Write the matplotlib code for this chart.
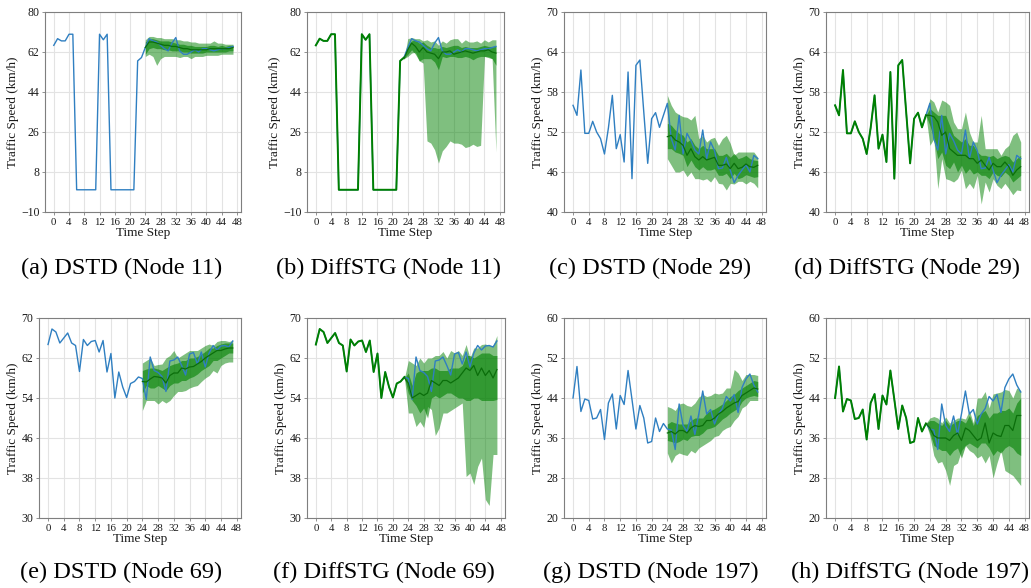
import numpy as np
import matplotlib
matplotlib.use("Agg")
import matplotlib.pyplot as plt

plt.rcParams['font.family'] = ['Liberation Serif', 'DejaVu Serif']
plt.rcParams['mathtext.fontset'] = 'stix'

steps = list(range(48))
pred_steps_dstd = list(range(24, 48))
pred_steps_diff = list(range(23, 48))
x_ticks = list(range(0, 49, 4))

# ---------------- Node 11 ----------------
truth_11 = [65, 68, 67, 67, 70, 70, 0, 0, 0, 0, 0, 0, 70, 67.5, 70, 0, 0, 0, 0, 0, 0, 0,
            58, 59.5, 64, 68, 67, 66.5, 65, 63.5, 62.5, 66, 68.5, 62.5, 61, 61, 62, 63, 62,
            63.5, 63.5, 63, 62.5, 63, 63.5, 63.5, 64, 64.5]
dstd_11_mean = [64, 66.5, 66.5, 66, 65.5, 65, 65, 64.5, 64.5, 64, 63.5, 63.5, 63, 63, 63, 63,
                63, 63.5, 63.5, 63.5, 63.5, 63.5, 63.5, 64]
dstd_11_in_hi = [66.5, 68, 68, 67.5, 67, 67, 67, 66.5, 66, 65.5, 65.5, 65, 65, 64.5, 64.5, 64.5,
                 64.5, 65, 65, 64.5, 65, 64.5, 65, 65]
dstd_11_in_lo = [61, 63.5, 64, 63.5, 63.5, 63, 63, 62.5, 62.5, 62.5, 62, 62, 61.5, 61.5, 61.5,
                 61.5, 62, 62, 62, 62, 62, 62, 62.5, 62.5]
dstd_11_out_hi = [67.5, 69, 69, 68.5, 68.5, 68, 68, 68, 67.5, 67.5, 67, 67, 66.5, 66.5, 66, 66,
                  66, 66, 67, 66, 66, 65.5, 65.5, 65.5]
dstd_11_out_lo = [60, 61, 60, 56, 59, 60, 60, 60, 60, 59.5, 60, 60, 59, 60, 60, 60, 60.5, 60.5,
                  60.5, 60.5, 61, 61, 61, 61]
diff_11_med = [59, 63, 66, 64.5, 62, 64, 62, 61.5, 61, 59, 62, 62, 62.5, 61, 61.5, 62, 62.5, 62,
               61.5, 62, 62.5, 62.5, 63, 62, 61.5]
diff_11_in_hi = [59, 65, 67, 67.5, 66, 66.5, 65, 64, 64, 63.5, 64.5, 64, 64.5, 65, 65, 64, 64.5,
                 64, 64, 64, 64.5, 65, 64.5, 64.5, 64.5]
diff_11_in_lo = [59, 61, 63, 61, 58, 59, 59, 59, 57.5, 54, 60, 59.5, 60, 60, 59.5, 59.5, 60, 59.5,
                 58.5, 59.5, 60, 60, 59.5, 59, 56]
diff_11_out_hi = [59, 68, 68.5, 68, 68, 67, 67.5, 66.5, 67, 65, 67, 66, 67.5, 68, 68, 66, 67.5,
                  66.5, 66.5, 67, 66, 67.5, 66.5, 67.5, 67.5]
diff_11_out_lo = [59, 60, 61.5, 62, 58, 57, 22, 21, 18, 12, 17.5, 19.5, 22, 21, 21, 20.5, 19, 19.5,
                  20.5, 19.5, 20, 60, 60, 59, 17]

# ---------------- Node 29 ----------------
truth_29 = [56, 54.5, 61.3, 51.8, 51.8, 53.6, 52, 51, 48.7, 52.6, 57.5, 49.5, 51.6, 47.5, 61, 45,
            62, 62.8, 55, 47.3, 54, 54.9, 52.7, 54.5, 56.3, 51, 49.3, 54.5, 48.7, 51.8, 50.7,
            49.3, 48.7, 52.3, 48, 50.5, 49.2, 46.5, 46.6, 48.2, 46.3, 44.4, 45.5, 46.3, 47.1,
            46, 48.5, 48]
dstd_29_mean = [51.3, 51.5, 50.8, 50.5, 50, 48.5, 49.5, 48.3, 47.8, 48.3, 47.8, 48, 48.2, 47, 47,
                47.2, 46.5, 47.3, 46.5, 46.7, 47.2, 46.8, 46.7, 47]
dstd_29_in_hi = [53.3, 53, 52.3, 51.8, 51.5, 50.5, 51, 50, 49.5, 50, 49.5, 49.5, 49.5, 48.5, 48.5,
                 48.8, 48.2, 48.8, 48, 48.2, 48.5, 48, 47.8, 47.7]
dstd_29_in_lo = [49.5, 49.5, 49, 48.8, 48.5, 46.8, 47.8, 46.8, 46.3, 46.8, 46.3, 46.3, 46.5, 45.5,
                 45.5, 45.8, 45, 45.8, 45, 45.2, 45.6, 45.4, 45.2, 45.3]
dstd_29_out_hi = [57.5, 56, 55, 54.6, 54.3, 54.2, 53.8, 54.5, 51, 51.5, 50.5, 51, 51.2, 50, 51,
                  51.5, 50.3, 48.5, 49, 49, 49, 49, 49, 48.2]
dstd_29_out_lo = [48, 47, 46, 46, 46.3, 45.3, 46, 45, 45, 44.8, 45, 44.5, 45.3, 44.3, 44.2, 43.3,
                  44.3, 44.2, 44.6, 44.6, 44.2, 44.6, 44.3, 43.6]
diff_29_med = [54.5, 54.5, 54.3, 53.5, 51.5, 52, 49.5, 49, 48.5, 48.5, 48.5, 48, 48, 47.3, 47.8,
               47, 46.3, 47.3, 46.8, 46.8, 47.5, 46.8, 45.5, 46.3, 46.8]
diff_29_in_hi = [54.5, 55.5, 55, 54.5, 54.5, 54.5, 53, 51.5, 51, 50.5, 51, 50, 50, 49, 48.5, 48.5,
                 48.3, 48.5, 48, 48.3, 48.5, 48.3, 47.5, 48, 48.5]
diff_29_in_lo = [54.5, 53, 51, 48, 49, 47, 46.5, 47.5, 46, 47, 45.8, 46.5, 45.7, 46, 45.5, 45.5,
                 45, 46, 45.5, 45.3, 46, 45.5, 44.5, 45, 45.5]
diff_29_out_hi = [54.5, 57, 56.5, 55, 56.8, 56.5, 56, 53.5, 52.5, 52.5, 55, 52, 50.5, 50.5, 54.5,
                  49.5, 49.5, 49.5, 49.5, 48.5, 49.5, 50, 51.5, 52, 50.5]
diff_29_out_lo = [54.5, 50, 51, 43.5, 48, 45, 44.8, 44.5, 45, 46.3, 43.5, 44.3, 43.5, 45.5, 41.2,
                  44.5, 43, 45, 44, 43.5, 44.3, 43.5, 42.6, 43.3, 43.2]

# ---------------- Node 69 ----------------
truth_69 = [64.7, 67.8, 67.2, 65, 66, 67, 65, 64.5, 59.3, 65.7, 64.5, 65.3, 65.5, 63.2, 65.5,
            59.2, 62.9, 54, 59.2, 56.2, 54.1, 56.9, 57.3, 58.2, 57.9, 53.7, 62.2, 59.5, 59.1,
            58.3, 55.3, 61.4, 61.6, 62.2, 60.5, 58.6, 62.8, 63.1, 60.8, 63.2, 60.2, 63, 64.5,
            63.6, 64.4, 64.5, 64.2, 65.4]
dstd_69_mean = [57.3, 57.2, 57.8, 58.3, 58.2, 58, 57, 58.5, 59, 59, 60, 59.8, 60.2, 60.3, 60.8,
                61.3, 62, 62.5, 63, 63.5, 63.5, 63.8, 64, 64]
dstd_69_in_hi = [59.5, 59.8, 60, 60, 59.8, 59.5, 60, 60.5, 60.8, 61, 61.5, 61.5, 62, 62, 62.3,
                 62.8, 63.3, 64, 64, 64.5, 64.8, 65, 65, 65]
dstd_69_in_lo = [55, 56.5, 56, 56, 56.5, 56, 55.5, 56.5, 57, 57, 57.5, 57.5, 58, 58.3, 58.8, 59.5,
                 60, 60.5, 61.5, 61.5, 62, 62.5, 63, 63]
dstd_69_out_hi = [61, 61.5, 62, 60.5, 60.7, 60.8, 62, 62.5, 63.5, 62, 62.5, 63, 63.5, 63.5, 63.5,
                  64, 64.5, 64.8, 64.5, 65.3, 65.5, 65.5, 65.3, 65.5]
dstd_69_out_lo = [51.5, 53.5, 53.5, 53.5, 52.8, 53.5, 53, 53.5, 54.5, 55.3, 55.3, 55.5, 56, 56.3,
                  56.5, 57.3, 58, 58.5, 59.5, 59, 60.5, 61, 61.2, 61.2]
diff_69_med = [58, 57, 54, 54.5, 55, 54.5, 55, 57.5, 57, 56.5, 57.5, 57.5, 57, 57.5, 58, 59, 60,
               59.5, 60.5, 58.5, 60, 58.5, 59.5, 58, 59.7]
diff_69_in_hi = [58, 59, 56.5, 59, 59.5, 59.5, 59.5, 60, 60, 59.5, 59.5, 59.5, 60, 60, 60, 60.5,
                 62.5, 62.5, 62, 62.5, 63, 63, 63, 62.5, 62.5]
diff_69_in_lo = [58, 55, 53.5, 52.5, 51, 52, 50, 54, 54.5, 54, 54.5, 55, 55, 54.5, 54, 54, 53.5,
                 53.5, 54, 54, 53.5, 53.5, 53.5, 53.5, 53.7]
diff_69_out_hi = [58, 61.5, 61, 60.5, 62, 61, 62, 62, 62.5, 62.5, 63.3, 62, 63.5, 63, 63.5, 62.5,
                  64.7, 62, 64, 64, 64.7, 64.8, 64.5, 64.5, 66.5]
diff_69_out_lo = [58, 51, 51, 48.3, 49.3, 48.1, 52.3, 51.7, 46.5, 48, 51, 51, 51.5, 52, 52.5, 53,
                  38.3, 39, 36.7, 40.3, 42, 33.7, 32.5, 42.7, 42.7]

# ---------------- Node 197 ----------------
truth_197 = [44, 50.3, 41.3, 43.8, 43.5, 39.8, 40, 41.7, 35.7, 43, 44.8, 37.8, 44.5, 42.7, 49.5,
             43.7, 37.8, 42.5, 40, 35, 35.3, 40, 37.3, 38.9, 37.8, 37.6, 33.7, 42.8, 38.5, 37.3,
             40.4, 36.7, 40.8, 45.4, 40.8, 41.7, 38.8, 40.8, 41.9, 44.3, 43.4, 44.7, 41.1, 46.1,
             47.8, 48.8, 46.6, 45.2]
dstd_197_mean = [37, 37.3, 36.8, 37.5, 37.5, 37, 38, 38.5, 38.3, 38.5, 39.5, 39.5, 40, 40.8, 41.3,
                 42, 42.5, 43, 43.3, 44.5, 45, 45.5, 46, 45.8]
dstd_197_in_hi = [38.8, 39.3, 39, 38.8, 38.8, 38.8, 39.5, 40, 40, 40, 41, 41.5, 41.8, 42.3, 42.8,
                  43.5, 44.3, 44.7, 45.5, 46, 46.5, 47, 47.5, 47.3]
dstd_197_in_lo = [35.5, 35.3, 35, 35.3, 35.8, 35.5, 36.3, 36.5, 36.5, 37, 37.8, 38, 38.3, 39, 39.8,
                  40.3, 41, 41.5, 42, 43.3, 44, 44.3, 44.5, 44.3]
dstd_197_out_hi = [42.3, 42, 41.5, 42.8, 43, 42.5, 42.3, 43, 44.2, 44.7, 44.3, 44.5, 45, 44.8, 45,
                   46, 46, 49.7, 49, 47.5, 48.7, 48.7, 48.7, 48.5]
dstd_197_out_lo = [33, 31, 32.5, 33, 32.7, 32.5, 33.5, 33, 34, 34.5, 35, 35.5, 36.3, 36.5, 37.5,
                   38, 38.3, 39.5, 40.3, 42, 42.5, 43.5, 43.5, 43.5]
diff_197_med = [38.9, 38, 36.5, 36, 36, 36, 35.5, 36.5, 37, 35.5, 38, 37.5, 36.5, 35.5, 36, 39, 35,
                37, 36.5, 36.3, 38.5, 38.5, 37.5, 40.5, 40.5]
diff_197_in_hi = [38.9, 39.5, 39.5, 39, 38.5, 39.5, 38.5, 39, 39.5, 39.5, 39, 40.5, 38.5, 40.5, 41,
                  41.5, 40, 41, 41, 41.5, 41.5, 42, 41, 43, 44]
diff_197_in_lo = [38.9, 37, 34.5, 34, 33.5, 33.5, 32.5, 33.5, 34, 32, 34.5, 35, 34.5, 34, 35, 35,
                  34, 32.5, 33.5, 33, 34, 34.5, 34, 33, 32.5]
diff_197_out_hi = [38.9, 40, 40.3, 40, 39, 40.2, 39, 39.5, 40, 40, 39.8, 41.5, 39, 44, 44, 45.3,
                   42, 44.8, 45, 45.2, 45.7, 45.5, 44, 46, 45.5]
diff_197_out_lo = [38.9, 36.5, 32.5, 31, 31.3, 29.5, 26.5, 30.5, 31, 33.5, 34.5, 33.5, 33, 32,
                   32.5, 31, 32.5, 28, 31, 33.5, 29.5, 29, 28.5, 27.5, 26.5]

y_ranges = {11: (-10, 80, 18), 29: (40, 70, 6), 69: (30, 70, 8), 197: (20, 60, 8)}
captions = ["(a) DSTD (Node 11)", "(b) DiffSTG (Node 11)", "(c) DSTD (Node 29)",
            "(d) DiffSTG (Node 29)", "(e) DSTD (Node 69)", "(f) DiffSTG (Node 69)",
            "(g) DSTD (Node 197)", "(h) DiffSTG (Node 197)"]

BLUE = '#2f7fc1'
GREEN = '#008000'
DARKG = '#0b6e0b'

fig = plt.figure(figsize=(10.31, 5.88), dpi=100)
W, H = 1031.0, 588.0
# axes boxes in pixels: left, top, right, bottom
boxes = [(45, 12, 241, 212), (307, 12, 504, 212), (564, 12, 766, 212), (826, 12, 1029, 212),
         (39, 318, 241, 518), (307, 318, 505, 518), (564, 318, 766, 518), (826, 318, 1029, 518)]
cap_pos = [(122, 268), (388, 268), (650, 268), (907, 268),
           (121, 572), (384, 572), (651, 572), (910, 572)]

panels = [
    ('dstd', 11, truth_11, dstd_11_mean, dstd_11_in_lo, dstd_11_in_hi, dstd_11_out_lo, dstd_11_out_hi),
    ('diff', 11, truth_11, diff_11_med, diff_11_in_lo, diff_11_in_hi, diff_11_out_lo, diff_11_out_hi),
    ('dstd', 29, truth_29, dstd_29_mean, dstd_29_in_lo, dstd_29_in_hi, dstd_29_out_lo, dstd_29_out_hi),
    ('diff', 29, truth_29, diff_29_med, diff_29_in_lo, diff_29_in_hi, diff_29_out_lo, diff_29_out_hi),
    ('dstd', 69, truth_69, dstd_69_mean, dstd_69_in_lo, dstd_69_in_hi, dstd_69_out_lo, dstd_69_out_hi),
    ('diff', 69, truth_69, diff_69_med, diff_69_in_lo, diff_69_in_hi, diff_69_out_lo, diff_69_out_hi),
    ('dstd', 197, truth_197, dstd_197_mean, dstd_197_in_lo, dstd_197_in_hi, dstd_197_out_lo, dstd_197_out_hi),
    ('diff', 197, truth_197, diff_197_med, diff_197_in_lo, diff_197_in_hi, diff_197_out_lo, diff_197_out_hi),
]

for i, (kind, node, truth, med, ilo, ihi, olo, ohi) in enumerate(panels):
    l, t, r, b = boxes[i]
    ax = fig.add_axes([l / W, 1 - b / H, (r - l) / W, (b - t) / H])
    xs = pred_steps_dstd if kind == 'dstd' else pred_steps_diff
    ax.fill_between(xs, olo, ohi, color=GREEN, alpha=0.5, linewidth=0, zorder=2)
    ax.fill_between(xs, ilo, ihi, color=GREEN, alpha=0.6, linewidth=0, zorder=3)
    ax.plot(steps, truth, color=BLUE, linewidth=1.0, zorder=4)
    if kind == 'diff':
        ax.plot(steps[:24], truth[:24], color=GREEN, linewidth=1.4, zorder=5)
    ax.plot(xs, med, color=DARKG, linewidth=0.9, zorder=5)

    y0, y1, dy = y_ranges[node]
    ax.set_ylim(y0, y1)
    ax.set_yticks(list(range(y0, y1 + 1, dy)))
    ax.set_xlim(-2.3, 49.1)
    ax.set_xticks(x_ticks)
    ax.grid(True, color='#e3e3e3', linewidth=0.8, zorder=0)
    ax.set_axisbelow(True)
    for s in ax.spines.values():
        s.set_color('#7f7f7f')
        s.set_linewidth(0.8)
    ax.tick_params(axis='both', colors='#7f7f7f', labelcolor='#1a1a1a',
                   length=2.5, width=0.6, pad=1.5)
    ax.tick_params(axis='y', labelsize=8.5)
    ax.tick_params(axis='x', labelsize=7.8)
    ax.set_xlabel('Time Step', fontsize=9.5, labelpad=0, color='#1a1a1a')
    ax.set_ylabel('Traffic Speed (km/h)', fontsize=9.5, labelpad=1.5, color='#1a1a1a')

    cx, cy = cap_pos[i]
    fig.text(cx / W, 1 - cy / H, captions[i], fontsize=17.5, ha='center', va='center',
             color='black')

fig.savefig('out.png', dpi=100)
